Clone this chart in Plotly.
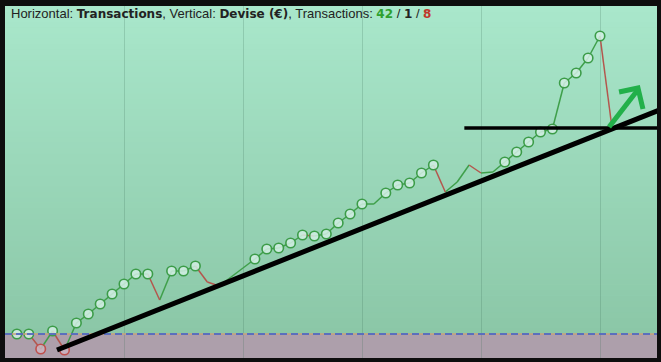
import plotly.graph_objects as go

# ---- data ----
transactions = list(range(1, 52))
equity = [0, 0, -15, 3, -16, 11, 20, 30, 40, 50,
          60, 60, 34, 63, 63, 68, 52, 48, 57, 66,
          75, 85, 86, 91, 99, 98, 100, 111, 120, 130,
          130, 141, 149, 151, 161, 169, 142, 152, 169, 161,
          162, 172, 182, 192, 202, 205, 251, 261, 276, 298,
          207]
marked = [1, 1, 1, 1, 1, 1, 1, 1, 1, 1,
          1, 1, 0, 1, 1, 1, 0, 0, 0, 0,
          1, 1, 1, 1, 1, 1, 1, 1, 1, 1,
          0, 1, 1, 1, 1, 1, 0, 0, 0, 0,
          0, 1, 1, 1, 1, 1, 1, 1, 1, 1,
          0]
wins, even, losses = 42, 1, 8

X_RANGE = [0, 54.79]
Y_RANGE = [-24, 328]

fig = go.Figure()

# ---- background gradient & lower zone ----
shapes = []
top_c = (169, 231, 203)
bot_c = (139, 199, 167)
nb = 60
for i in range(nb):
    t0 = i / nb
    t1 = (i + 1) / nb
    tm = (t0 + t1) / 2
    c = tuple(round(bot_c[k] + (top_c[k] - bot_c[k]) * tm) for k in range(3))
    shapes.append(dict(type="rect", xref="paper", yref="y", x0=0, x1=1,
                       y0=Y_RANGE[1] * t0, y1=Y_RANGE[1] * t1 + 0.5,
                       fillcolor="rgb(%d,%d,%d)" % c, line_width=0, layer="below"))
shapes.append(dict(type="rect", xref="paper", yref="y", x0=0, x1=1,
                   y0=Y_RANGE[0], y1=0, fillcolor="#ad9fab", line_width=0, layer="below"))

# ---- coloured segments ----
gx, gy, rx, ry = [], [], [], []
for i in range(len(equity) - 1):
    seg_x = [transactions[i], transactions[i + 1], None]
    seg_y = [equity[i], equity[i + 1], None]
    if equity[i + 1] >= equity[i]:
        gx += seg_x; gy += seg_y
    else:
        rx += seg_x; ry += seg_y
fig.add_trace(go.Scatter(x=gx, y=gy, mode="lines", line=dict(color="#3f9f4a", width=1.5),
                         hoverinfo="skip", showlegend=False))
fig.add_trace(go.Scatter(x=rx, y=ry, mode="lines", line=dict(color="#b4564d", width=1.5),
                         hoverinfo="skip", showlegend=False))

# ---- markers ----
mx = [t for t, m in zip(transactions, marked) if m]
my = [v for v, m in zip(equity, marked) if m]
mcol = ["#3c9c48" if v >= 0 else "#c0504d" for v in my]
mfill = ["rgba(210,238,228,0.85)" if v >= 0 else "rgba(205,180,192,0.85)" for v in my]
fig.add_trace(go.Scatter(x=mx, y=my, mode="markers",
                         marker=dict(symbol="circle", size=9.5, color=mfill,
                                     line=dict(color=mcol, width=1.6)),
                         showlegend=False))

# ---- zero line ----
shapes.append(dict(type="line", xref="paper", yref="y", x0=0, x1=1, y0=0, y1=0,
                   line=dict(color="#c9a07a", width=1.5), layer="above"))
shapes.append(dict(type="line", xref="paper", yref="y", x0=0, x1=1, y0=0, y1=0,
                   line=dict(color="#3a5ed0", width=1.5, dash="7px,4px"), layer="above"))

# ---- hand-drawn annotations (in data units) ----
shapes.append(dict(type="line", xref="x", yref="y", x0=4.37, y0=-16, x1=55.2, y1=225,
                   line=dict(color="black", width=5), layer="above"))
shapes.append(dict(type="line", xref="x", yref="y", x0=38.6, y0=206, x1=55.2, y1=206,
                   line=dict(color="black", width=3.5), layer="above"))
shapes.append(dict(type="path", xref="x", yref="y",
                   path="M 50.76 207 L 53.1 243",
                   line=dict(color="#22b04a", width=5), layer="above"))
shapes.append(dict(type="path", xref="x", yref="y",
                   path="M 51.6 242 L 53.19 246 L 53.61 225",
                   line=dict(color="#22b04a", width=5), layer="above"))

B = "<span style='font-family:DejaVu Sans;font-weight:bold;font-size:12px;%s'>%s</span>"
title_html = ("Horizontal: " + B % ("", "Transactions") + ", Vertical: "
              + B % ("", "Devise (€)") + ", Transactions: "
              + B % ("color:#2ea02e", str(wins)) + " / "
              + B % ("", str(even)) + " / "
              + B % ("color:#c0392b", str(losses)))

fig.update_layout(
    width=661, height=362,
    margin=dict(l=5, r=4, t=6, b=4),
    paper_bgcolor="#0e0e0e",
    plot_bgcolor="#9bd8b9",
    shapes=shapes,
    showlegend=False,
    xaxis=dict(range=X_RANGE, tick0=0, dtick=10, showgrid=True,
               gridcolor="rgba(60,110,85,0.22)", gridwidth=1,
               showticklabels=False, zeroline=False, showline=False, ticks=""),
    yaxis=dict(range=Y_RANGE, showgrid=False, showticklabels=False,
               zeroline=False, showline=False, ticks=""),
    annotations=[dict(xref="paper", yref="paper", x=(9 - 5) / 652, y=(358 - 14) / 352,
                      xanchor="left", yanchor="middle", showarrow=False,
                      text=title_html,
                      font=dict(family="Liberation Sans, Arial, sans-serif", size=13,
                                color="#222222"))],
)

fig.write_html("out.html")
